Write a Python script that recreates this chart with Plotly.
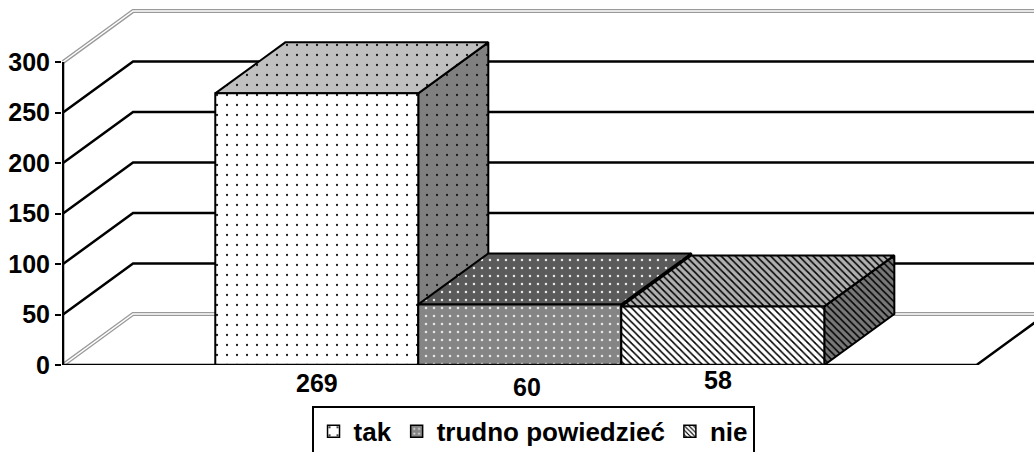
import plotly.graph_objects as go

# ---- data ----
series = ["tak", "trudno powiedzieć", "nie"]
values = [269, 60, 58]
value_labels = ["269", "60", "58"]
y_ticks = [0, 50, 100, 150, 200, 250, 300]

# ---- style ----
FONT = "Liberation Sans, Arial, sans-serif"
DX = 0.345      # depth offset (bar widths)
DY = 50.5       # depth offset (value units)
GAP = 0.75      # floor overhang on each side (bar widths)
Y_TOP = 361.4
X_RANGE = [-0.755, 4.033]
front_bg = ["#ffffff", "#858585", "#ffffff"]
top_bg = ["#c0c0c0", "#5a5a5a", "#b0b0b0"]
side_bg = ["#808080", "#4a4a4a", "#787878"]
fg = ["#1a1a1a", "#e8e8e8", "#000000"]
pshape = [".", ".", "\\"]
psize = [10, 8, 5]
psolid = [0.04, 0.08, 0.3]
label_shift = [(0, -18), (7, -22), (-5, -15)]

n = len(values)
x0, x1 = -GAP, n + GAP
vmax = max(y_ticks)

fig = go.Figure()

def seg_trace(xs, ys, color, width):
    return go.Scatter(x=xs, y=ys, mode="lines", line=dict(color=color, width=width),
                      hoverinfo="skip", showlegend=False)

# gray double lines (floor back/left edges, wall tops)
gx, gy = [], []
for v in (y_ticks[0], y_ticks[-1]):
    gx += [x0, x0 + DX, x1 + DX, None]
    gy += [v, v + DY, v + DY, None]
fig.add_trace(seg_trace(gx, gy, "#9a9a9a", 4))
fig.add_trace(seg_trace(gx, gy, "#ffffff", 1.5))

# black gridlines
bx, by = [], []
for v in y_ticks[1:-1]:
    bx += [x0, x0 + DX, x1 + DX, None]
    by += [v, v + DY, v + DY, None]
fig.add_trace(seg_trace(bx, by, "#000000", 2.5))

# bars
def face(xs, ys, bg, i):
    return go.Scatter(x=xs, y=ys, mode="lines", fill="toself",
                      line=dict(color="#000000", width=2), fillcolor=bg,
                      fillpattern=dict(shape=pshape[i], bgcolor=bg, fgcolor=fg[i],
                                       size=psize[i], solidity=psolid[i], fillmode="replace"),
                      hoverinfo="skip", showlegend=False)

for i, v in enumerate(values):
    a, b = i, i + 1
    fig.add_trace(face([b, b + DX, b + DX, b, b], [0, DY, v + DY, v, 0], side_bg[i], i))
    fig.add_trace(face([a, b, b + DX, a + DX, a], [v, v, v + DY, v + DY, v], top_bg[i], i))
    fig.add_trace(face([a, b, b, a, a], [0, 0, v, v, 0], front_bg[i], i))

# floor front edge + value axis line
fig.add_trace(seg_trace([x0, x1, x1 + DX], [0, 0, DY], "#000000", 2.5))
fig.add_trace(seg_trace([x0, x0], [0, vmax], "#000000", 2.5))

# legend entries
leg_size = [12, 6, 4]
leg_solid = [0.06, 0.15, 0.35]
for i, name in enumerate(series):
    fig.add_trace(go.Bar(x=[None], y=[None], name=name,
                         marker=dict(color=front_bg[i], line=dict(color="#000000", width=1.5),
                                     pattern=dict(shape=pshape[i], bgcolor=front_bg[i], fgcolor=fg[i],
                                                  size=leg_size[i], solidity=leg_solid[i],
                                                  fillmode="replace"))))

# value labels under bars
for i, t in enumerate(value_labels):
    fig.add_annotation(x=i + 0.5, y=0, xref="x", yref="y", text=t, showarrow=False,
                       xshift=label_shift[i][0], yshift=label_shift[i][1], yanchor="middle",
                       font=dict(family=FONT, size=25, color="#000000", weight="bold"))

# figure is a bit taller than the window so the legend box runs off the bottom edge
FIG_H = 472
fig.update_layout(
    width=1034, height=FIG_H,
    margin=dict(l=62, r=0, t=0, b=FIG_H - 365),
    paper_bgcolor="#ffffff", plot_bgcolor="#ffffff",
    xaxis=dict(range=X_RANGE, visible=False, fixedrange=True),
    yaxis=dict(range=[0, Y_TOP], tickvals=y_ticks, ticks="outside", ticklen=6, tickwidth=2,
               tickcolor="#000000", showgrid=False, zeroline=False, showline=False,
               tickfont=dict(family=FONT, size=25, color="#000000", weight="bold"),
               fixedrange=True),
    showlegend=True,
    legend=dict(orientation="h", x=0.4846, xanchor="center", y=-0.112, yanchor="top",
                bordercolor="#000000", borderwidth=2, bgcolor="#ffffff", itemwidth=30,
                font=dict(family=FONT, size=26, color="#000000", weight="bold")),
)

fig.write_html("out.html", config={"displayModeBar": False},
               post_script="document.body.style.margin='0';"
                           "document.body.style.overflow='hidden';"
                           "document.documentElement.style.overflow='hidden';")
